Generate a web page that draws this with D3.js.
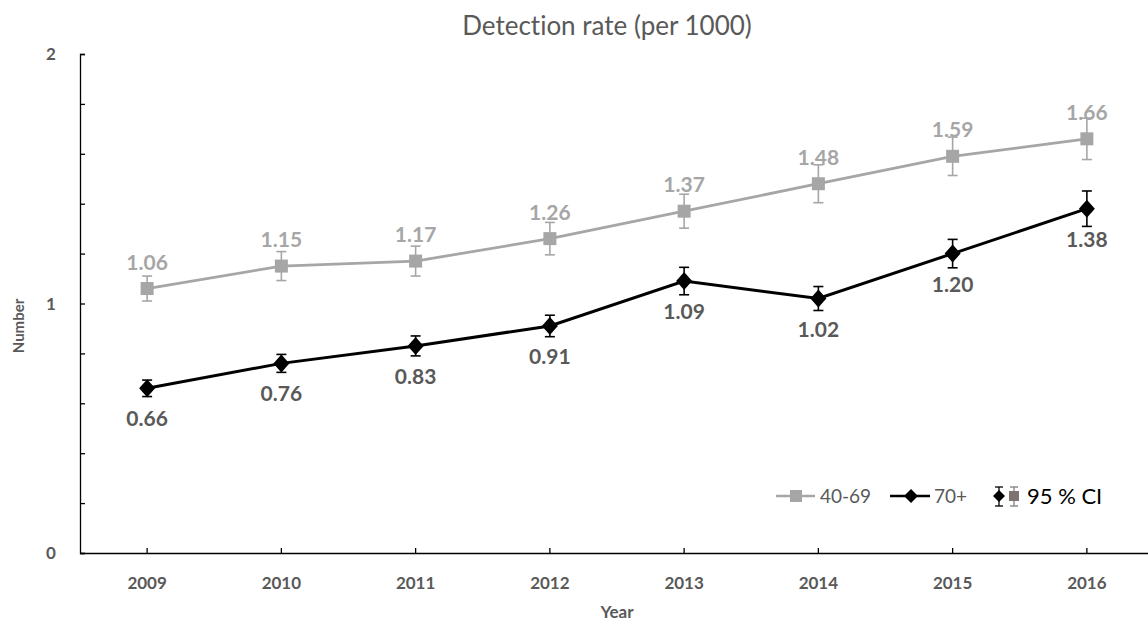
<!DOCTYPE html>
<html><head><meta charset="utf-8">
<script src="https://cdn.jsdelivr.net/npm/d3@7"></script>
<style>body{margin:0;background:#fff;} svg{display:block;font-family:Lato,"Open Sans",sans-serif;} text{font-variant-ligatures:none;font-feature-settings:"liga" 0,"clig" 0,"dlig" 0,"hlig" 0;}</style>
</head><body><svg id="c" width="1148" height="621"></svg>
<script>
const years = ["2009","2010","2011","2012","2013","2014","2015","2016"];
const rateYoung = [1.06,1.15,1.17,1.26,1.37,1.48,1.59,1.66];
const ciYoung = [0.05,0.058,0.06,0.065,0.068,0.076,0.077,0.083];
const rateOld = [0.66,0.76,0.83,0.91,1.09,1.02,1.20,1.38];
const ciOld = [0.033,0.036,0.04,0.043,0.055,0.048,0.057,0.071];
const yTicks = [0,1,2];
const yMinorTicks = [0,0.2,0.4,0.6,0.8,1,1.2,1.4,1.6,1.8,2];
const seriesNames = ["40-69","70+"];

const svg = d3.select("#c");
const x = d3.scaleBand().domain(years).range([80,1154]);
const y = d3.scaleLinear().domain([0,2]).range([553,54]);
const grey = "#a6a6a6", txt = "#595959";

svg.append("text").attr("x",607).attr("y",35).attr("text-anchor","middle")
  .attr("font-size",26).attr("fill",txt).text("Detection rate (per 1000)");

// y axis
const ya = svg.append("g").attr("transform","translate(80,0)")
  .call(d3.axisLeft(y).tickValues(yMinorTicks).tickSize(-5).tickFormat(""));
ya.select(".domain").attr("stroke","#000").attr("stroke-width",1.3);
ya.selectAll(".tick line").attr("stroke","#000").attr("stroke-width",1.3);
svg.selectAll(".ylab").data(yTicks).join("text").attr("x",51).attr("y",d=>y(d)+6)
  .attr("text-anchor","middle").attr("font-size",17).attr("font-weight","bold").attr("fill",txt).text(d=>d);

// x axis
const xa = svg.append("g").attr("transform","translate(0,553)")
  .call(d3.axisBottom(x).tickSize(-5).tickSizeOuter(0).tickFormat(""));
xa.select(".domain").attr("stroke","#000").attr("stroke-width",1.3);
xa.selectAll(".tick line").attr("stroke","#000").attr("stroke-width",1.3);
svg.selectAll(".xlab").data(years).join("text").attr("x",d=>x(d)+x.bandwidth()/2).attr("y",589)
  .attr("text-anchor","middle").attr("font-size",17).attr("font-weight","bold").attr("fill",txt).text(d=>d);

svg.append("text").attr("x",617).attr("y",618).attr("text-anchor","middle")
  .attr("font-size",17).attr("font-weight","bold").attr("fill",txt).text("Year");
svg.append("text").attr("transform","translate(24,326) rotate(-90)").attr("text-anchor","middle")
  .attr("font-size",15).attr("font-weight","bold").attr("fill",txt).text("Number");

const cx = (d,i)=>x(years[i])+x.bandwidth()/2;
const line = d3.line().x((d,i)=>cx(d,i)).y(d=>y(d));

function errorBars(vals, cis, color){
  const g = svg.append("g").attr("stroke",color).attr("stroke-width",1.6);
  vals.forEach((v,i)=>{
    const X = cx(v,i), t = y(v+cis[i]), b = y(v-cis[i]);
    g.append("line").attr("x1",X).attr("x2",X).attr("y1",t).attr("y2",b);
    g.append("line").attr("x1",X-5).attr("x2",X+5).attr("y1",t).attr("y2",t);
    g.append("line").attr("x1",X-5).attr("x2",X+5).attr("y1",b).attr("y2",b);
  });
}
const diamond = (w,h)=>`M0,${-h}L${w},0L0,${h}L${-w},0Z`;

// 40-69
errorBars(rateYoung, ciYoung, grey);
svg.append("path").datum(rateYoung).attr("d",line).attr("fill","none").attr("stroke",grey).attr("stroke-width",2.8);
svg.selectAll(".sq").data(rateYoung).join("rect").attr("x",(d,i)=>cx(d,i)-6.5).attr("y",d=>y(d)-6.5)
  .attr("width",13).attr("height",13).attr("fill",grey);
svg.selectAll(".ly").data(rateYoung).join("text").attr("x",(d,i)=>cx(d,i)).attr("y",d=>y(d)-19)
  .attr("text-anchor","middle").attr("font-size",21).attr("font-weight","bold").attr("fill",grey).text(d=>d.toFixed(2));

// 70+
errorBars(rateOld, ciOld, "#000");
svg.append("path").datum(rateOld).attr("d",line).attr("fill","none").attr("stroke","#000").attr("stroke-width",3);
svg.selectAll(".dm").data(rateOld).join("path").attr("d",diamond(8,9))
  .attr("transform",(d,i)=>`translate(${cx(d,i)},${y(d)})`).attr("fill","#000");
svg.selectAll(".lo").data(rateOld).join("text").attr("x",(d,i)=>cx(d,i)).attr("y",d=>y(d)+38)
  .attr("text-anchor","middle").attr("font-size",21).attr("font-weight","bold").attr("fill",txt).text(d=>d.toFixed(2));

// legend
const lg = svg.append("g");
lg.append("line").attr("x1",776).attr("x2",815).attr("y1",496).attr("y2",496).attr("stroke",grey).attr("stroke-width",2.5);
lg.append("rect").attr("x",790).attr("y",490).attr("width",12).attr("height",12).attr("fill",grey);
lg.append("text").attr("x",820).attr("y",503).attr("font-size",19).attr("fill",txt).text(seriesNames[0]);
lg.append("line").attr("x1",890).attr("x2",930).attr("y1",496).attr("y2",496).attr("stroke","#000").attr("stroke-width",2.5);
lg.append("path").attr("d",diamond(7,7)).attr("transform","translate(911,496)").attr("fill","#000");
lg.append("text").attr("x",934).attr("y",503).attr("font-size",19).attr("fill",txt).text(seriesNames[1]);
// CI icon
const ci = lg.append("g").attr("stroke","#000").attr("stroke-width",1.3);
ci.append("line").attr("x1",999).attr("x2",999).attr("y1",487).attr("y2",506);
ci.append("line").attr("x1",995).attr("x2",1003).attr("y1",487).attr("y2",487);
ci.append("line").attr("x1",995).attr("x2",1003).attr("y1",506).attr("y2",506);
lg.append("path").attr("d",diamond(6,6)).attr("transform","translate(999,496)").attr("fill","#000");
const ci2 = lg.append("g").attr("stroke","#7f7f7f").attr("stroke-width",1.3);
ci2.append("line").attr("x1",1014).attr("x2",1014).attr("y1",487).attr("y2",506);
ci2.append("line").attr("x1",1010).attr("x2",1018).attr("y1",487).attr("y2",487);
ci2.append("line").attr("x1",1010).attr("x2",1018).attr("y1",506).attr("y2",506);
lg.append("rect").attr("x",1009).attr("y",491).attr("width",10).attr("height",10).attr("fill","#7f7372");
lg.append("text").attr("x",1027).attr("y",504).attr("font-size",22).attr("fill","#000").text("95 % CI");
</script></body></html>
